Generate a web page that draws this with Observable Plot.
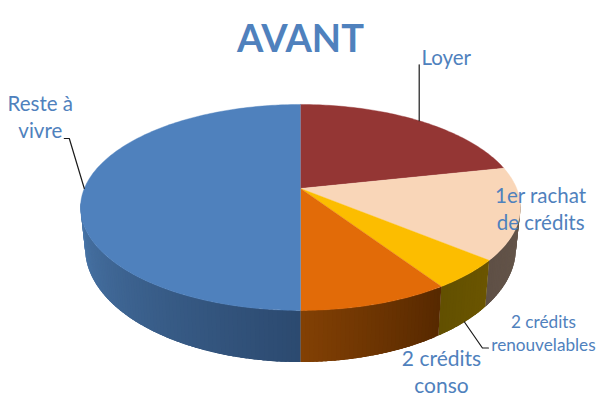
<!DOCTYPE html>
<html>
<head>
<meta charset="utf-8">
<script src="https://cdn.jsdelivr.net/npm/d3@7"></script>
<script src="https://cdn.jsdelivr.net/npm/@observablehq/plot@0.6"></script>
<style>html,body{margin:0;padding:0;background:#fff}svg{display:block}</style>
</head>
<body>
<div id="chart"></div>
<script>
// Data (share of the pie, clockwise from 12 o'clock)
const categories = ["Loyer", "1er rachat de crédits", "2 crédits renouvelables", "2 crédits conso", "Reste à vivre"];
const values = [21.6, 14.4, 4.7, 9.3, 50];
const labelLines = [["Loyer"], ["1er rachat", "de crédits"], ["2 crédits", "renouvelables"], ["2 crédits", "conso"], ["Reste à", "vivre"]];
const title = "AVANT";

// Styling
const topColors = ["#943634", "#f9d6b8", "#fcbd00", "#e26b08", "#4f81bd"];
const sideFrom = ["#943634", "#66574b", "#6b5500", "#572900", "#2c4a70"];
const sideTo = ["#943634", "#5f5046", "#625000", "#824004", "#4a77aa"];
const TEXT = "#4f81bd", FONT = "Lato, 'Open Sans', sans-serif";

// Perspective view of the disc
const top3d = {cx: 300, cy: 188, a: 216.2, b: 99.5, p: 0.184};
const bot3d = {cx: 300, cy: 226.7, a: 211.7, b: 110, p: 0.184};
const project = (view, deg) => {
  const r = deg * Math.PI / 180, u = Math.sin(r), v = -Math.cos(r), w = 1 - view.p * v;
  return {x: view.cx + view.a * u / w, y: view.cy + view.b * v / w};
};

// Slices from the values
const total = d3.sum(values);
let acc = 0;
const slices = categories.map((name, i) => {
  const start = acc; acc += values[i] / total * 360;
  return {name, i, start, end: acc, mid: (start + acc) / 2};
});

const arcAngles = (a, b) => {
  const n = Math.max(2, Math.ceil(b - a));
  return d3.range(n + 1).map(k => a + (b - a) * k / n);
};

const topRows = slices.flatMap(s => [
  {z: s.name, color: topColors[s.i], x: top3d.cx, y: top3d.cy},
  ...arcAngles(s.start, s.end).map(d => ({z: s.name, color: topColors[s.i], ...project(top3d, d)}))
]);

// Only the front of the wall is visible; each band overlaps the next to avoid seams
const FRONT = [98, 262];
const sideRows = slices.flatMap(s => {
  const lo = Math.max(s.start, FRONT[0]), hi = Math.min(s.end, FRONT[1]);
  if (hi <= lo) return [];
  const col = d3.interpolateRgb(sideFrom[s.i], sideTo[s.i]);
  const angles = arcAngles(lo, hi);
  return d3.pairs(angles).flatMap(([a, b], k) => {
    const z = s.name + k, color = col(k / (angles.length - 2 || 1));
    const b2 = Math.min(hi, b + 1.5);
    return [...arcAngles(a, b2).map(d => project(top3d, d)), ...arcAngles(a, b2).reverse().map(d => project(bot3d, d))]
      .map(p => ({z, color, ...p}));
  });
});

// Labels and leader lines hang off each slice's mid-angle rim point
const layout = [
  {view: top3d, size: 20.5, lh: 0, dx: 27, dy: -62, lead: [[0, -56]]},
  {view: top3d, size: 20.5, lh: 27, dx: 20.5, dy: -17, lead: null},
  {view: bot3d, size: 17.2, lh: 23, dx: 79, dy: 0, lead: [[18, 26], [24, 26]]},
  {view: bot3d, size: 21, lh: 27, dx: 67, dy: 4, lead: null},
  {view: top3d, size: 20.5, lh: 27, dx: -44, dy: -84, lead: [[-15, -50], [-20, -50]]}
];

const anchors = slices.map((s, i) => project(layout[i].view, s.mid));
const labelRows = slices.flatMap((s, i) => {
  const l = layout[i], a = anchors[i];
  return labelLines[i].map((text, k) => ({text, size: l.size, x: a.x + l.dx, y: a.y + l.dy + k * l.lh}));
});
const leaderRows = slices.flatMap((s, i) => layout[i].lead
  ? [[0, 0], ...layout[i].lead].map(([dx, dy]) => ({z: s.name, x: anchors[i].x + dx, y: anchors[i].y + dy}))
  : []);

const textMark = (size, data) => Plot.text(data, {
  x: "x", y: "y", text: "text", fill: TEXT, fontSize: size, fontFamily: FONT,
  textAnchor: "middle", lineAnchor: "middle"
});

const chart = Plot.plot({
  width: 600, height: 400,
  marginTop: 0, marginRight: 0, marginBottom: 0, marginLeft: 0,
  x: {domain: [0, 600], range: [0, 600], axis: null},
  y: {domain: [0, 400], range: [0, 400], axis: null},
  style: {background: "#fff"},
  marks: [
    Plot.line(sideRows, {x: "x", y: "y", z: "z", fill: {value: "color", scale: null}, curve: "linear"}),
    Plot.line(topRows, {x: "x", y: "y", z: "z", fill: {value: "color", scale: null}, stroke: {value: "color", scale: null}, strokeWidth: 0.4, curve: "linear"}),
    Plot.line(leaderRows, {x: "x", y: "y", z: "z", stroke: "#1a1a1a", strokeWidth: 1.2, curve: "linear"}),
    ...d3.groups(labelRows, d => d.size).map(([size, rows]) => textMark(size, rows)),
    Plot.text([{text: title, x: 300, y: 39}], {x: "x", y: "y", text: "text", fill: TEXT, fontSize: 38, fontWeight: 700, fontFamily: FONT, textAnchor: "middle", lineAnchor: "middle"})
  ]
});
document.getElementById("chart").append(chart);
</script>
</body>
</html>
